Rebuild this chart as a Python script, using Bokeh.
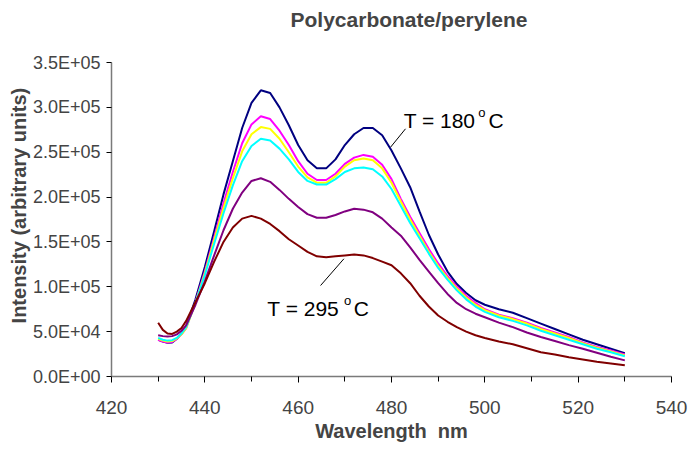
from bokeh.plotting import figure
from bokeh.models import Range1d, FixedTicker, Label, Title
from bokeh.embed import file_html
from bokeh.resources import INLINE

FONT = "Liberation Sans"

# ---------------- data (intensity in thousands of counts) ----------------
wavelength = [430, 431, 432, 433, 434, 435, 436,
              438, 440, 442, 444, 446, 448, 450, 452, 454, 456,
              458, 460, 462, 464, 466, 468, 470, 472, 474, 476,
              478, 480, 482, 484, 486, 488, 490, 492, 494, 496,
              498, 500,
              503, 506, 509, 512, 515, 518, 521, 524, 527, 530]

t180 = [41, 39, 37.5, 38, 42, 48, 56,
        86, 122, 162, 203, 240, 277, 305, 319, 316, 300,
        280, 258, 241, 232, 232, 242, 258, 270, 277, 277,
        269, 252, 232, 211, 184, 158, 136, 117, 103, 93,
        85, 80,
        75, 71, 65, 59, 53, 47, 41, 36, 31, 26]

s_magenta = [41, 39, 38, 38.5, 42, 47, 54,
             83, 117, 155, 193, 228, 260, 281, 290, 287, 274,
             258, 240, 226, 219, 219, 226, 237, 244, 247, 245,
             236, 220, 198, 178, 160, 142, 126, 112, 100, 90,
             82, 75,
             69, 65, 60, 54, 49, 44, 38, 33, 29, 24.5]

s_yellow = [42, 40, 39, 39.5, 42.5, 47, 54,
            82, 115, 152, 188, 221, 251, 270, 278, 276, 265,
            250, 234, 222, 216, 216, 223, 234, 241, 243, 241,
            232, 216, 195, 175, 157, 139, 123, 110, 98, 88,
            80, 74,
            68, 64, 59, 53, 48, 43, 37, 32, 28, 23.5]

s_cyan = [43, 41, 40, 40.5, 43, 48, 55,
          82, 113, 148, 182, 213, 240, 257, 265, 263, 254,
          242, 228, 218, 214, 214, 220, 228, 232, 233, 231,
          223, 209, 190, 171, 154, 137, 121, 108, 96, 86,
          78, 72,
          66, 62, 57, 51, 46, 41, 36, 31, 27, 22.5]

s_purple = [46, 45, 44.5, 45, 47, 51, 57,
            80, 106, 135, 163, 187, 205, 218, 221, 217, 208,
            198, 189, 181, 177, 177, 180, 184, 187, 186, 183,
            176, 166, 157, 144, 130, 117, 104, 92, 82, 75,
            70, 66,
            60, 55, 49, 44, 39.5, 35, 31, 26.5, 22, 18]

t295 = [60, 52, 48, 47.5, 50, 54, 62,
        83, 104, 128, 150, 166, 176, 179, 176, 170, 162,
        153, 146, 139, 134, 133, 134, 135, 136, 135, 132,
        128, 124, 115, 104, 90, 78, 68, 61, 55, 50,
        46, 43,
        39, 36, 31.5, 27, 24.5, 21.5, 19, 16.5, 14.5, 12.5]

series = [t180, s_magenta, s_yellow, s_cyan, s_purple, t295]
colors = ["#000080", "#FF00FF", "#FFFF00", "#00FFFF", "#800080", "#800000"]

x_ticks = [420, 440, 460, 480, 500, 520, 540]
x_minor = [430, 450, 470, 490, 510, 530]
y_ticks = [0, 50, 100, 150, 200, 250, 300, 350]
y_tick_labels = ["0.0E+00", "5.0E+04", "1.0E+05", "1.5E+05",
                 "2.0E+05", "2.5E+05", "3.0E+05", "3.5E+05"]

title_text = "Polycarbonate/perylene"
x_title = "Wavelength\u00a0\u00a0nm"
y_title = "\u00a0" * 5 + "Intensity (arbitrary units)"

# annotation texts and anchor points (data units)
hi_label = ["T = 180", "o", "C"]
hi_x = [482.6, 498.6, 500.8]
hi_y = [285.3, 294.3, 285.3]
hi_leader = [483.0, 276.1, 479.8, 255.6]
lo_label = ["T = 295", "o", "C"]
lo_x = [453.4, 469.8, 471.9]
lo_y = [75.5, 84.5, 75.5]
lo_leader = [464.8, 101.4, 469.8, 131.2]

# ---------------- figure ----------------
p = figure(width=688, height=458,
           x_range=Range1d(420, 540), y_range=Range1d(0, 350),
           output_backend="svg", toolbar_location=None,
           min_border_left=111, min_border_right=17,
           min_border_top=62, min_border_bottom=82)

p.outline_line_color = None
p.xgrid.visible = False
p.ygrid.visible = False
p.background_fill_color = "white"
p.border_fill_color = "white"

for vals, c in zip(series, colors):
    p.line(wavelength, vals, line_color=c, line_width=2)

# leader lines
for seg in (hi_leader, lo_leader):
    p.segment(x0=[seg[0]], y0=[seg[1]], x1=[seg[2]], y1=[seg[3]],
              line_color="black", line_width=1)

for texts, xs, ys in ((hi_label, hi_x, hi_y), (lo_label, lo_x, lo_y)):
    for i, (t, xx, yy) in enumerate(zip(texts, xs, ys)):
        p.add_layout(Label(x=xx, y=yy, text=t, text_font=FONT,
                           text_font_size="13px" if i == 1 else "21px",
                           text_baseline="alphabetic", text_align="left",
                           text_color="black"))

# title: a thin spacer panel next to the frame, then the real title above it
p.title.text = ""
p.add_layout(Title(text="\u00a0", text_font_size="2px", standoff=27), "above")
p.add_layout(Title(text=title_text, text_font=FONT, text_font_size="21px",
                   text_font_style="bold", align="left", offset=179,
                   standoff=2, vertical_align="bottom"), "above")

# x axis
xa = p.xaxis[0]
xa.ticker = FixedTicker(ticks=x_ticks, minor_ticks=x_minor)
xa.axis_label = x_title
xa.axis_label_text_font = FONT
xa.axis_label_text_font_size = "20px"
xa.axis_label_text_font_style = "bold"
xa.axis_label_standoff = 3
xa.major_label_text_font = FONT
xa.major_label_text_font_size = "19px"
xa.major_label_standoff = 18
xa.major_tick_out = 6
xa.major_tick_in = 0
xa.minor_tick_out = 5
xa.minor_tick_in = 0
xa.axis_line_color = "#7a7a7a"
xa.axis_line_width = 1.5
xa.major_tick_line_color = "black"
xa.minor_tick_line_color = "black"

# y axis
ya = p.yaxis[0]
ya.ticker = FixedTicker(ticks=y_ticks, minor_ticks=[])
ya.major_label_overrides = dict(zip(y_ticks, y_tick_labels))
ya.axis_label = y_title
ya.axis_label_text_font = FONT
ya.axis_label_text_font_size = "20px"
ya.axis_label_text_font_style = "bold"
ya.axis_label_standoff = 0
ya.major_label_text_font = FONT
ya.major_label_text_font_size = "18px"
ya.major_label_standoff = 6
ya.major_tick_out = 5
ya.major_tick_in = 0
ya.axis_line_color = "#7a7a7a"
ya.axis_line_width = 1.5
ya.major_tick_line_color = "black"

open("out.html", "w").write(file_html(p, INLINE))
